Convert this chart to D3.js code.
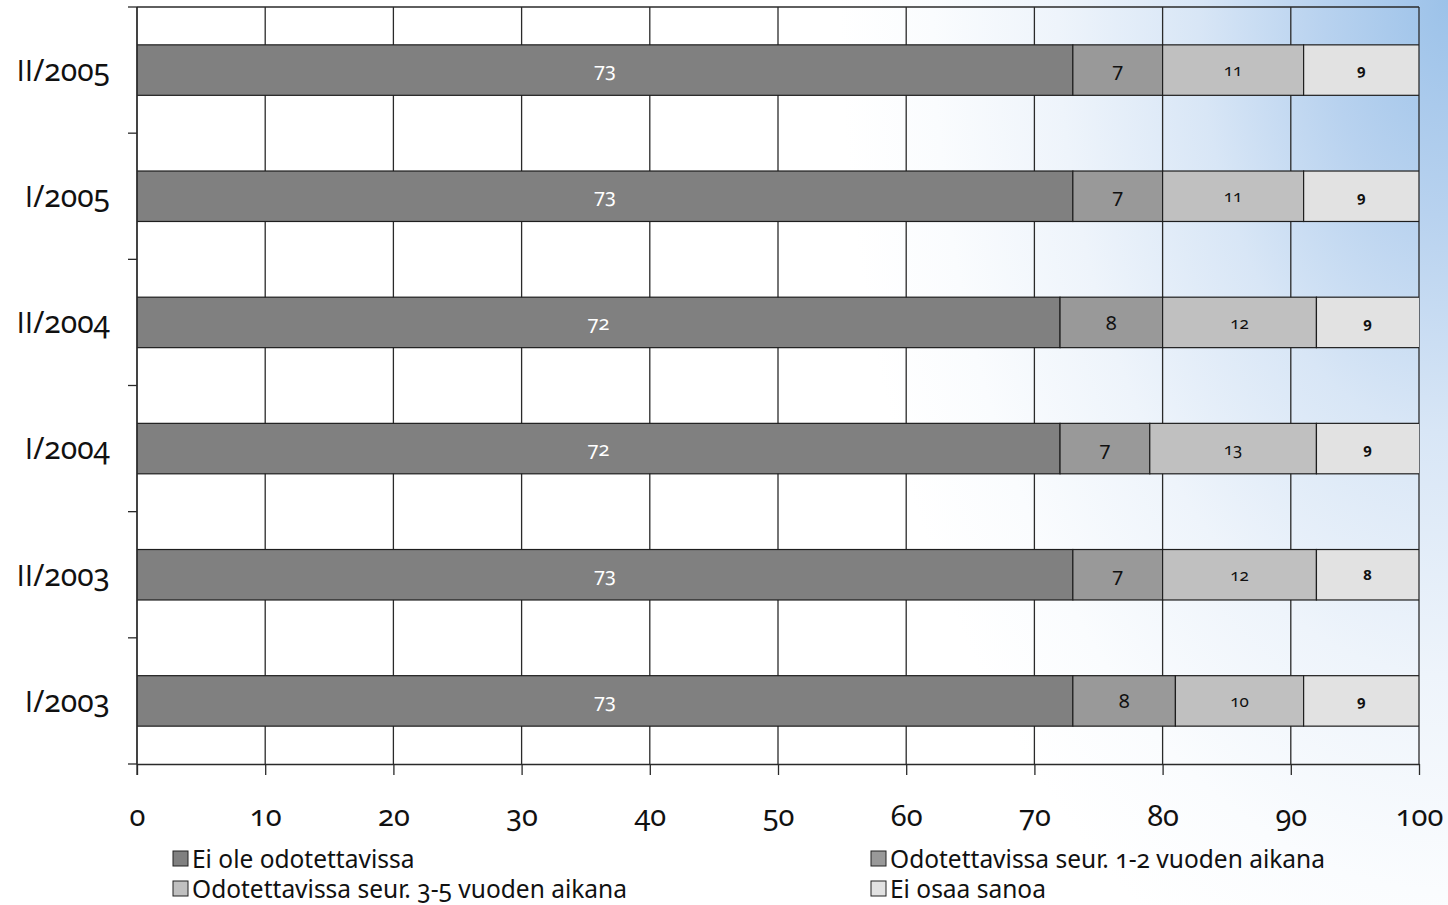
<!DOCTYPE html>
<html>
<head>
<meta charset="utf-8">
<script src="https://cdn.jsdelivr.net/npm/d3@7/dist/d3.min.js"></script>
<style>
  html, body { margin: 0; padding: 0; }
  body {
    width: 1448px; height: 905px; overflow: hidden;
    background: radial-gradient(ellipse 780px 1350px at 100% 0%, #9cc2e9 0%, #b8d2ef 16%, #d8e6f6 32%, #eef4fb 50%, #fafcfe 66%, #ffffff 78%);
    font-family: "Noto Sans", "Open Sans", sans-serif;
  }
  svg text { font-family: "Noto Sans", "Open Sans", sans-serif; font-feature-settings: "onum" 1; }
  svg tspan.plain { font-family: "Open Sans", sans-serif; font-feature-settings: normal; }
</style>
</head>
<body>
<svg id="chart" width="1448" height="905"></svg>
<script>
const categories = ["II/2005", "I/2005", "II/2004", "I/2004", "II/2003", "I/2003"];
const seriesNames = ["Ei ole odotettavissa", "Odotettavissa seur. 1-2 vuoden aikana", "Odotettavissa seur. 3-5 vuoden aikana", "Ei osaa sanoa"];
const s1 = [73, 73, 72, 72, 73, 73];
const s2 = [7, 7, 8, 7, 7, 8];
const s3 = [11, 11, 12, 13, 12, 10];
const s4 = [9, 9, 9, 9, 8, 9];
const xTicks = [0, 10, 20, 30, 40, 50, 60, 70, 80, 90, 100];
const colors = ["#808080", "#999999", "#c0c0c0", "#e2e2e2"];

const series = [s1, s2, s3, s4];
const svg = d3.select("#chart");
const L = 137, R = 1419, T = 7, B = 764;

const x = d3.scaleLinear().domain([0, 100]).range([L, R]);
const y = d3.scaleBand().domain(categories).range([T, B]).paddingInner(0.6).paddingOuter(0.3);

svg.append("defs").append("clipPath").attr("id", "plotclip")
  .append("rect").attr("x", L).attr("y", T - 2).attr("width", R - L).attr("height", B - T + 4);

// vertical gridlines
svg.append("g").selectAll("line").data(xTicks).join("line")
  .attr("x1", d => x(d)).attr("x2", d => x(d))
  .attr("y1", T).attr("y2", B)
  .attr("stroke", "#2a2a2a").attr("stroke-width", 1.3);

svg.append("line").attr("x1", L).attr("x2", R).attr("y1", T).attr("y2", T)
  .attr("stroke", "#2a2a2a").attr("stroke-width", 1.3);

const rows = categories.map((c, i) => {
  let acc = 0;
  return series.map((s, k) => {
    const v = s[i];
    const seg = { cat: c, k, v, x0: acc, x1: acc + v };
    acc += v;
    return seg;
  });
}).flat();

const barG = svg.append("g").attr("clip-path", "url(#plotclip)");
barG.selectAll("rect").data(rows).join("rect")
  .attr("x", d => x(d.x0))
  .attr("y", d => y(d.cat))
  .attr("width", d => x(d.x1) - x(d.x0))
  .attr("height", y.bandwidth())
  .attr("fill", d => colors[d.k])
  .attr("stroke", "#1e1e1e").attr("stroke-width", 1.2);

const labelSize = [20, 20, 17, 15];
const labelWeight = ["normal", "normal", "normal", "bold"];
svg.append("g").selectAll("text").data(rows).join("text")
  .attr("x", d => (x(d.x0) + x(Math.min(d.x1, 100))) / 2)
  .attr("y", d => y(d.cat) + y.bandwidth() / 2)
  .attr("dy", "0.36em")
  .attr("text-anchor", "middle")
  .attr("font-size", d => labelSize[d.k])
  .attr("font-weight", d => labelWeight[d.k])
  .attr("fill", d => d.k === 0 ? "#ffffff" : "#111111")
  .text(d => d.v);

// x axis
const xAxis = d3.axisBottom(x).tickValues(xTicks).tickSize(11).tickPadding(45).tickSizeOuter(0);
const gx = svg.append("g").attr("transform", `translate(0,${B})`).call(xAxis);
gx.select(".domain").attr("stroke", "#2a2a2a").attr("stroke-width", 1.3);
gx.selectAll(".tick line").attr("stroke", "#2a2a2a").attr("stroke-width", 1.3);
gx.selectAll(".tick text").attr("font-size", 29).attr("fill", "#111").attr("dy", "0.2em")
  .style("font-family", "'Noto Sans', sans-serif");

// y axis
const yEdges = categories.map(c => y(c) - y.step() * y.paddingInner() / 2).concat([B]);
svg.append("line").attr("x1", L).attr("x2", L).attr("y1", T).attr("y2", B + 11)
  .attr("stroke", "#2a2a2a").attr("stroke-width", 1.3);
svg.append("g").selectAll("line").data(yEdges).join("line")
  .attr("x1", L - 9).attr("x2", L).attr("y1", d => d).attr("y2", d => d)
  .attr("stroke", "#2a2a2a").attr("stroke-width", 1.3);
const yl = svg.append("g").selectAll("text").data(categories).join("text")
  .attr("x", 110).attr("y", d => y(d) + y.bandwidth() / 2)
  .attr("dy", "0.36em").attr("text-anchor", "end")
  .attr("font-size", 30).attr("fill", "#111");
yl.append("tspan").attr("class", "plain").text(d => d.split("/")[0]);
yl.append("tspan").text(d => "/" + d.split("/")[1]);

// legend
const legendPos = [[173, 851], [871, 851], [173, 881], [871, 881]];
const lg = svg.append("g").selectAll("g").data(seriesNames).join("g")
  .attr("transform", (d, i) => `translate(${legendPos[i][0]},${legendPos[i][1]})`);
lg.append("rect").attr("width", 15).attr("height", 15)
  .attr("fill", (d, i) => colors[i]).attr("stroke", "#222").attr("stroke-width", 1);
lg.append("text").attr("x", 19).attr("y", 8).attr("dy", "0.36em")
  .attr("font-size", 24.5).attr("fill", "#111").text(d => d);
</script>
</body>
</html>
